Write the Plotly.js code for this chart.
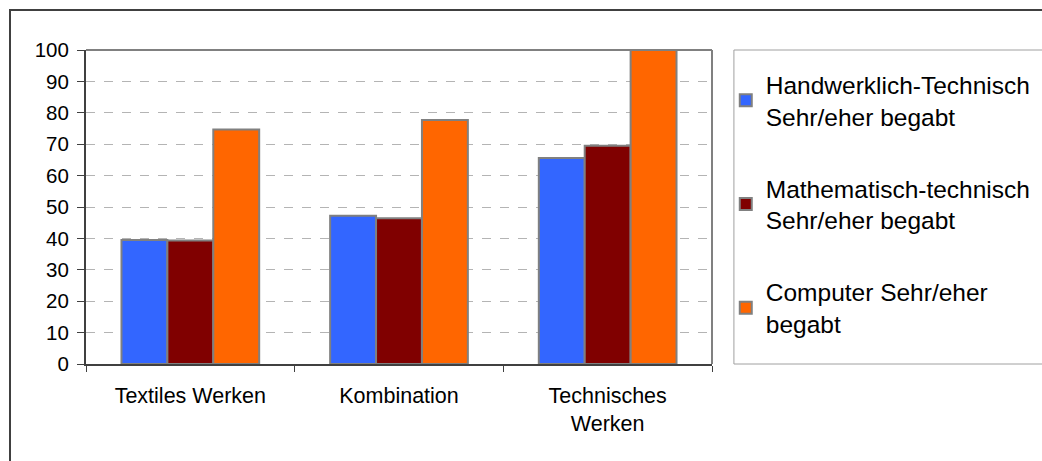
<!DOCTYPE html>
<html>
<head>
<meta charset="utf-8">
<script src="https://cdn.plot.ly/plotly-3.0.1.min.js"></script>
<style>html,body{margin:0;padding:0;background:#fff;}#chart{width:1042px;height:461px;}</style>
</head>
<body>
<div id="chart"></div>
<script>
const categories = ["Textiles Werken", "Kombination", "Technisches<br>Werken"];
const seriesNames = ["Handwerklich-Technisch<br>Sehr/eher begabt", "Mathematisch-technisch<br>Sehr/eher begabt", "Computer Sehr/eher<br>begabt"];
const handwerklich = [39.5, 47.2, 65.6];
const mathematisch = [39.3, 46.4, 69.5];
const computer = [74.7, 77.7, 100];
const yTicks = [0, 10, 20, 30, 40, 50, 60, 70, 80, 90, 100];
const colors = ["#3366FF", "#800000", "#FF6600"];

const allValues = [handwerklich, mathematisch, computer];
const traces = allValues.map((vals, i) => ({
  type: "bar",
  x: categories,
  y: vals,
  name: seriesNames[i],
  legendgroup: "g" + i,
  marker: {color: colors[i], line: {color: "#808080", width: 2}},
  hoverinfo: "y"
}));

const font = "Liberation Sans, Arial, sans-serif";
const layout = {
  width: 1042, height: 461,
  margin: {l: 86, r: 330, t: 50, b: 97, autoexpand: false},
  paper_bgcolor: "#ffffff", plot_bgcolor: "#ffffff",
  font: {family: font, color: "#000", size: 20},
  barmode: "group",
  bargap: 0.34, bargroupgap: 0,
  xaxis: {
    type: "category", automargin: false,
    showline: true, linecolor: "#404040", linewidth: 2,
    ticks: "outside", tickson: "boundaries", ticklen: 6, tickcolor: "#404040", tickwidth: 1,
    ticklabelstandoff: 11,
    tickfont: {size: 21.5, family: font},
    showgrid: false, zeroline: false, fixedrange: true
  },
  yaxis: {
    range: [0, 100], tickvals: yTicks, ticktext: yTicks.map(String), automargin: false,
    showline: true, linecolor: "#404040", linewidth: 2,
    ticks: "outside", ticklen: 7, tickcolor: "#404040", tickwidth: 1,
    ticklabelstandoff: 4,
    tickfont: {size: 20.5, family: font},
    showgrid: true, gridcolor: "#b4b4b4", griddash: "dash", gridwidth: 1,
    zeroline: false, fixedrange: true
  },
  showlegend: true,
  legend: {
    x: 1.022, xanchor: "left", y: 0.962, yanchor: "top",
    font: {size: 24.5, family: font, color: "#000"},
    bgcolor: "rgba(0,0,0,0)", borderwidth: 0,
    tracegroupgap: 37, traceorder: "grouped",
    itemclick: false, itemdoubleclick: false
  },
  shapes: [
    {type: "rect", xref: "paper", yref: "paper", x0: -0.1214, x1: 1.6, y0: -0.4, y1: 1.127,
     line: {color: "#404040", width: 2}, fillcolor: "rgba(0,0,0,0)", layer: "below"},
    {type: "rect", xref: "paper", yref: "paper", x0: 1.035, x1: 1.6, y0: 0, y1: 1,
     line: {color: "#a0a0a0", width: 1}, fillcolor: "rgba(0,0,0,0)", layer: "below"},
    {type: "line", xref: "paper", yref: "paper", x0: 0, x1: 1, y0: 1, y1: 1,
     line: {color: "#808080", width: 2}},
    {type: "line", xref: "paper", yref: "paper", x0: 1, x1: 1, y0: 0, y1: 1,
     line: {color: "#808080", width: 2}}
  ]
};

Plotly.newPlot("chart", traces, layout, {displayModeBar: false, staticPlot: true});
</script>
</body>
</html>
